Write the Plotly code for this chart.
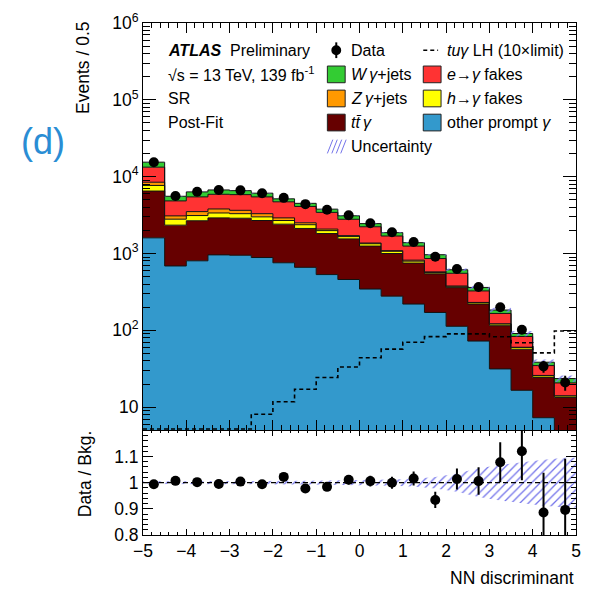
import numpy as np
import plotly.graph_objects as go

# ---------------------------------------------------------------------------
# NN discriminant distribution in the signal region (post-fit), 20 bins of 0.5
# ---------------------------------------------------------------------------
bin_edges = [-5.0, -4.5, -4.0, -3.5, -3.0, -2.5, -2.0, -1.5, -1.0, -0.5, 0.0,
             0.5, 1.0, 1.5, 2.0, 2.5, 3.0, 3.5, 4.0, 4.5, 5.0]
bin_centers = [-4.75, -4.25, -3.75, -3.25, -2.75, -2.25, -1.75, -1.25, -0.75, -0.25,
               0.25, 0.75, 1.25, 1.75, 2.25, 2.75, 3.25, 3.75, 4.25, 4.75]

# background yields per bin (stacked from bottom to top)
other_prompt = [1600, 689, 804, 960, 950, 887, 758, 661, 532, 459,
                345, 279, 220, 171, 113, 72.6, 31.5, 16.6, 7.3, 3.5]
ttgamma = [4900, 1651, 1866, 1950, 1930, 1803, 1652, 1459, 1288, 1091,
           905, 721, 531, 373, 247, 147.4, 83.5, 40.2, 17.1, 9.9]
h_fakes = [1190, 460, 450, 460, 420, 310, 280, 250, 165, 110,
           90, 70, 45, 21, 15, 9, 6, 3, 1.2, 0.6]
zgamma = [780, 290, 390, 430, 350, 300, 220, 140, 95, 50,
          30, 20, 24, 12, 3, 2, 1, 0.5, 0.3, 0.1]
e_fakes = [4830, 1750, 1950, 2100, 2190, 2160, 1800, 1590, 1350, 1080,
           860, 600, 430, 283, 175, 95, 44, 23, 8.9, 6.6]
wgamma = [2150, 720, 880, 820, 740, 640, 440, 400, 350, 310,
          220, 180, 135, 105, 62, 36, 18, 7.7, 3.7, 2.9]

# observed events
data = [15400, 5610, 6380, 6700, 6640, 6080, 5300, 4390, 3720, 3150,
        2480, 1890, 1410, 906, 630, 367, 200, 102, 34, 21]
# data / background
ratio = [0.994, 1.007, 1.002, 0.995, 1.004, 0.994, 1.022, 0.978, 0.984, 1.011,
         1.006, 1.000, 1.016, 0.934, 1.014, 1.006, 1.078, 1.120, 0.886, 0.896]
# relative uncertainty of the total background
rel_unc = [0.005, 0.005, 0.005, 0.005, 0.005, 0.006, 0.006, 0.007, 0.008, 0.009,
           0.010, 0.012, 0.015, 0.022, 0.035, 0.055, 0.068, 0.078, 0.088, 0.095]
# tu-gamma LH signal scaled to 10x the limit
signal = [5.2, 5.2, 5.2, 5.2, 5.2, 8.1, 11.8, 17.1, 24.4, 33.4,
          44, 57, 70, 83, 90, 90, 82.6, 69, 51, 98]

# ---------------------------------------------------------------------------
FONT = "Liberation Sans, Arial, Helvetica, sans-serif"
C_OTHER = "#3399cc"
C_TTG = "#660000"
C_HFAKE = "#ffff00"
C_ZG = "#ff9900"
C_EFAKE = "#ff3333"
C_WG = "#33cc33"
C_HATCH = "#7474ea"
HATCH = dict(shape="/", fgcolor=C_HATCH, fgopacity=1, bgcolor="rgba(0,0,0,0)",
             size=6, solidity=0.22)

# pixel geometry of the frame
L, T, W_PLOT, H_PLOT = 143, 14, 438, 521
FIG_W, FIG_H = 592, 591
SPLIT = 428.5  # boundary between main and ratio panel (px)


def fx(px):
    return (px - L) / W_PLOT


def fy(py):
    return (T + H_PLOT - py) / H_PLOT


def step(vals):
    v = list(vals)
    return v + [v[-1]]


fig = go.Figure()

# ----- stacked backgrounds (main panel) -----
components = [
    (other_prompt, C_OTHER),
    (ttgamma, C_TTG),
    (h_fakes, C_HFAKE),
    (zgamma, C_ZG),
    (e_fakes, C_EFAKE),
    (wgamma, C_WG),
]
cum = np.zeros(len(bin_centers))
fig.add_trace(go.Scatter(x=bin_edges, y=step(np.full(len(bin_centers), 1.0)),
                         mode="lines", line=dict(width=0, shape="hv"),
                         xaxis="x2", yaxis="y2", hoverinfo="skip", showlegend=False))
for vals, col in components:
    cum = cum + np.array(vals, dtype=float)
    fig.add_trace(go.Scatter(x=bin_edges, y=step(cum), mode="lines",
                             line=dict(color="#111111", width=1, shape="hv"),
                             fill="tonexty", fillcolor=col,
                             xaxis="x2", yaxis="y2", showlegend=False))
total = cum.copy()

# ----- uncertainty band on the stack -----
unc = np.array(rel_unc)
fig.add_trace(go.Scatter(x=bin_edges, y=step(total * (1 - unc)), mode="lines",
                         line=dict(width=0, shape="hv"), xaxis="x2", yaxis="y2",
                         hoverinfo="skip", showlegend=False))
fig.add_trace(go.Scatter(x=bin_edges, y=step(total * (1 + unc)), mode="lines",
                         line=dict(width=0, shape="hv"), fill="tonexty",
                         fillcolor="rgba(0,0,0,0)", fillpattern=HATCH,
                         xaxis="x2", yaxis="y2", hoverinfo="skip", showlegend=False))

# ----- signal overlay -----
fig.add_trace(go.Scatter(x=bin_edges, y=step(signal), mode="lines",
                         line=dict(color="black", width=1.6, shape="hv", dash="4px,3px"),
                         xaxis="x2", yaxis="y2", showlegend=False))

# ----- data -----
fig.add_trace(go.Scatter(x=bin_centers, y=data, mode="markers",
                         marker=dict(color="black", size=10),
                         error_y=dict(type="data", array=list(np.sqrt(data)),
                                      color="black", thickness=2, width=0),
                         xaxis="x2", yaxis="y2", showlegend=False))

# ----- ratio panel -----
band_x = [bin_edges[0]] + bin_centers + [bin_edges[-1]]
band_u = [rel_unc[0]] + rel_unc + [rel_unc[-1]]
fig.add_trace(go.Scatter(x=band_x, y=[1 - u for u in band_u], mode="lines",
                         line=dict(width=0), xaxis="x", yaxis="y",
                         hoverinfo="skip", showlegend=False))
fig.add_trace(go.Scatter(x=band_x, y=[1 + u for u in band_u], mode="lines",
                         line=dict(width=0), fill="tonexty", fillcolor="rgba(0,0,0,0)",
                         fillpattern=HATCH,
                         xaxis="x", yaxis="y", hoverinfo="skip", showlegend=False))
fig.add_trace(go.Scatter(x=[bin_edges[0], bin_edges[-1]], y=[1, 1], mode="lines",
                         line=dict(color="black", width=1.3, dash="5px,3px"),
                         xaxis="x", yaxis="y", hoverinfo="skip", showlegend=False))
ratio_err = [r / np.sqrt(n) for r, n in zip(ratio, data)]
fig.add_trace(go.Scatter(x=bin_centers, y=ratio, mode="markers",
                         marker=dict(color="black", size=10),
                         error_y=dict(type="data", array=ratio_err, color="black",
                                      thickness=2, width=0),
                         xaxis="x", yaxis="y", showlegend=False))

# ----- axes -----
split_paper = fy(SPLIT)
tickfont = dict(family=FONT, size=17.5, color="black")
common = dict(showline=True, linecolor="black", linewidth=1, mirror="allticks",
              ticks="inside", tickcolor="black", showgrid=False, zeroline=False)

log_major = [10, 100, 1e3, 1e4, 1e5, 1e6]
log_text = ["10", "10<sup>2</sup>", "10<sup>3</sup>", "10<sup>4</sup>",
            "10<sup>5</sup>", "10<sup>6</sup>"]
log_minor = [k * 10 ** n for n in range(0, 6) for k in range(2, 10) if k * 10 ** n >= 5]

fig.update_layout(
    width=FIG_W, height=FIG_H,
    margin=dict(l=L, r=FIG_W - L - W_PLOT, t=T, b=FIG_H - T - H_PLOT, pad=0),
    paper_bgcolor="white", plot_bgcolor="white",
    font=dict(family=FONT, color="black"),
    xaxis=dict(domain=[0, 1], anchor="y", range=[-5, 5], tick0=-5, dtick=1,
               ticklen=6, tickwidth=1, tickfont=tickfont,
               minor=dict(ticks="inside", dtick=0.2, tick0=-5, ticklen=3,
                          tickcolor="black"),
               **common),
    yaxis=dict(domain=[0, split_paper], anchor="x", range=[0.8, 1.2],
               tickmode="array", tickvals=[0.8, 0.9, 1.0, 1.1],
               ticktext=["0.8", "0.9", "1", "1.1"], ticklen=10, tickfont=tickfont,
               minor=dict(ticks="inside", tickmode="linear", tick0=0.8, dtick=0.02,
                          ticklen=5, tickcolor="black"),
               **common),
    xaxis2=dict(domain=[0, 1], anchor="y2", matches="x", range=[-5, 5], tick0=-5,
                dtick=1, ticklen=10, showticklabels=False,
                minor=dict(ticks="inside", dtick=0.2, tick0=-5, ticklen=5,
                           tickcolor="black"),
                **common),
    yaxis2=dict(domain=[split_paper, 1], anchor="x2", type="log",
                range=[np.log10(5), 6], tickmode="array", tickvals=log_major,
                ticktext=log_text, ticklen=13, tickfont=tickfont,
                minor=dict(ticks="inside", tickmode="array", tickvals=log_minor,
                           ticklen=7, tickcolor="black"),
                **common),
)

# ----- axis titles -----
annotations = []


def txt(text, px, py, size=16, xanchor="left", yanchor="middle", angle=0,
        color="black"):
    annotations.append(dict(text=text, x=fx(px), y=fy(py), xref="paper", yref="paper",
                            showarrow=False, xanchor=xanchor, yanchor=yanchor,
                            textangle=angle, font=dict(family=FONT, size=size,
                                                       color=color)))


txt("Events / 0.5", 83, 60, size=17.5, xanchor="center", angle=-90)
txt("Data / Bkg.", 84, 472.5, size=17.5, xanchor="center", angle=-90)
txt("NN discriminant", 581, 579, size=17.5, xanchor="right")
txt("(d)", 42, 135, size=36, xanchor="center", color="#2a8dd4")

# ----- labels -----
rows = [41.7, 66.3, 90.8, 115.3, 139.7]
txt("<b><i>ATLAS</i></b>  Preliminary", 166, rows[0])
txt("\u221as = 13 TeV, 139 fb<sup>-1</sup>", 166, rows[1])
txt("SR", 166, rows[2])
txt("Post-Fit", 166, rows[3])

C1_X0, C1_X1, C1_TX = 329.5, 347.5, 351
C2_X0, C2_X1, C2_TX = 426.5, 444.5, 448.5
txt("Data", C1_TX, rows[0])
txt("<i>W\u2009\u03b3</i>+jets", C1_TX, rows[1])
txt("<i>Z\u2009\u03b3</i>+jets", C1_TX, rows[2])
txt("<i>tt\u0304\u2009\u03b3</i>", C1_TX, rows[3])
txt("Uncertainty", C1_TX, rows[4])
txt("<i>tu\u03b3</i> LH (10\u00d7limit)", C2_TX, rows[0])
txt("<i>e</i>\u2192<i>\u03b3</i> fakes", C2_TX, rows[1])
txt("<i>h</i>\u2192<i>\u03b3</i> fakes", C2_TX, rows[2])
txt("other prompt <i>\u03b3</i>", C2_TX, rows[3])

shapes = []


def box(x0, x1, yc, col):
    shapes.append(dict(type="rect", xref="paper", yref="paper",
                       x0=fx(x0), x1=fx(x1), y0=fy(yc + 8.5), y1=fy(yc - 8.5),
                       fillcolor=col, line=dict(color="#222222", width=1)))


box(C1_X0, C1_X1, rows[1], C_WG)
box(C1_X0, C1_X1, rows[2], C_ZG)
box(C1_X0, C1_X1, rows[3], C_TTG)
box(C2_X0, C2_X1, rows[1], C_EFAKE)
box(C2_X0, C2_X1, rows[2], C_HFAKE)
box(C2_X0, C2_X1, rows[3], C_OTHER)

# data symbol
xc = (C1_X0 + C1_X1) / 2
shapes.append(dict(type="line", xref="paper", yref="paper", x0=fx(xc), x1=fx(xc),
                   y0=fy(rows[0] - 8), y1=fy(rows[0] + 8),
                   line=dict(color="black", width=2)))
shapes.append(dict(type="circle", xref="paper", yref="paper",
                   x0=fx(xc - 5), x1=fx(xc + 5), y0=fy(rows[0] + 5), y1=fy(rows[0] - 5),
                   fillcolor="black", line=dict(color="black", width=0)))
# signal symbol
shapes.append(dict(type="line", xref="paper", yref="paper", x0=fx(C2_X0), x1=fx(C2_X0 + 15),
                   y0=fy(rows[0]), y1=fy(rows[0]),
                   line=dict(color="black", width=1.6, dash="4px,3px")))
# uncertainty symbol (hatching)
for x0 in [329.5, 334.0, 338.5, 343.0]:
    shapes.append(dict(type="line", xref="paper", yref="paper",
                       x0=fx(x0), x1=fx(x0 + 5.5), y0=fy(rows[4] + 7), y1=fy(rows[4] - 7),
                       line=dict(color=C_HATCH, width=1)))

fig.update_layout(annotations=annotations, shapes=shapes)

fig.write_html("out.html")
